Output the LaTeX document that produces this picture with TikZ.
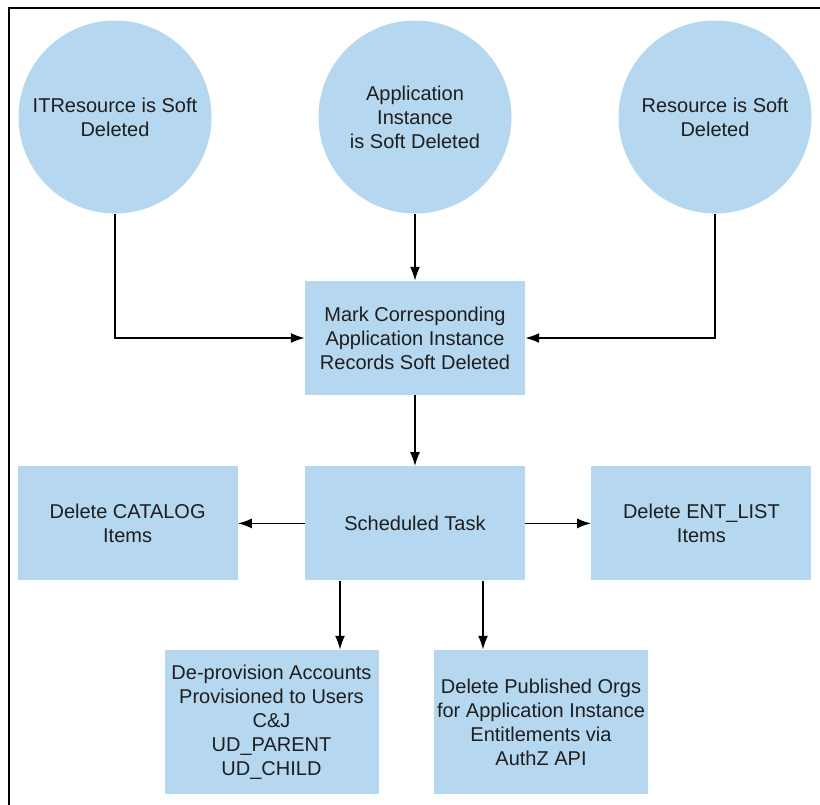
\documentclass[tikz,border=0pt]{standalone}
\usepackage{fontspec}
\setmainfont{Liberation Sans}
\usepackage{xcolor}
\definecolor{bubble}{RGB}{182,215,240}
\definecolor{ink}{RGB}{30,30,30}
\usepackage{tikz}
\usetikzlibrary{positioning,arrows.meta}
\tikzset{
  event/.style={
  circle,fill=bubble,minimum size=193pt,inner sep=0pt,align=center,text=ink,font=\fontsize{20}{24}\selectfont
  },
  task/.style={
  rectangle,fill=bubble,minimum width=220pt,minimum height=114pt,align=center,text=ink,font=\fontsize{20}{24}\selectfont
  },
  task2/.style={
  rectangle,fill=bubble,minimum width=214pt,minimum height=144pt,align=center,text=ink,font=\fontsize{20}{24}\selectfont
  },
  line/.style={draw,line width=1.8pt,-{Latex[length=14pt,width=10pt]}},
}
\begin{document}
\begin{tikzpicture}[x=1pt,y=-1pt]
  \useasboundingbox (0,0) rectangle (820,805);
  \draw[line width=2pt] (8.5,805) |- (820,8.5);
  \node[event] (itres) at (115,117) {ITResource is Soft\\Deleted};
  \node[event] (appinst) at (415,117) {Application\\Instance\\is Soft Deleted};
  \node[event] (res) at (715,117) {Resource is Soft\\Deleted};
  \node[task] (mark) at (415,338) {Mark Corresponding\\Application Instance\\Records Soft Deleted};
  \node[task,below=71pt of mark] (sched) {Scheduled Task};
  \node[task,left=67pt of sched] (catalog) {Delete CATALOG\\Items};
  \node[task,right=66pt of sched] (entlist) {Delete ENT\_LIST\\Items};
  \node[task2] (deprov) at (271.5,722) {De-provision Accounts\\Provisioned to Users\\C\&J\\UD\_PARENT\\UD\_CHILD};
  \node[task2] (orgs) at (541,722) {Delete Published Orgs\\for Application Instance\\Entitlements via\\AuthZ API};
  \path[line]
    (itres) |- (mark);
  \path[line]
    (res) |- (mark);
  \path[line] (appinst) -- (mark);
  \path[line] (mark) -- (sched);
  \path[line] (sched) -- (catalog);
  \path[line] (sched) -- (entlist);
  \path[line] ([xshift=-75pt]sched.south) -- ([xshift=-75pt]sched.south |- deprov.north);
  \path[line] ([xshift=68pt]sched.south) -- ([xshift=68pt]sched.south |- orgs.north);
\end{tikzpicture}
\end{document}
